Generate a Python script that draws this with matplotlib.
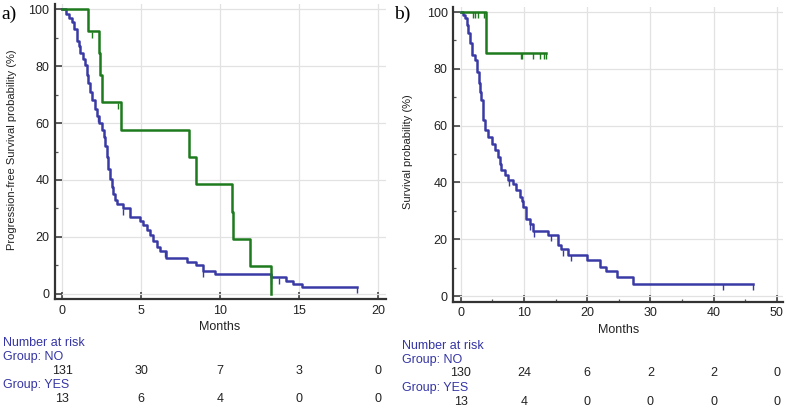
import numpy as np
import matplotlib
matplotlib.use("Agg")
import matplotlib.pyplot as plt
from matplotlib.transforms import blended_transform_factory
from matplotlib.ticker import MultipleLocator

plt.rcParams["font.family"] = ["Liberation Sans", "DejaVu Sans"]

BLUE = "#3a3aa6"
GREEN = "#1d7a1d"
TXT_BLUE = "#3535a5"

# ---- panel a: progression-free survival ----
a_no_t = [0.25, 0.45, 0.6, 0.75, 0.93, 1.05, 1.14, 1.3, 1.46, 1.55, 1.65, 1.78, 1.9,
          2.05, 2.2, 2.35, 2.5, 2.62, 2.72, 2.83, 2.93, 3.04, 3.13, 3.23, 3.35, 3.46,
          3.86, 4.3, 4.94, 5.15, 5.36, 5.55, 5.77, 6.0, 6.2, 6.6, 7.9, 8.5, 8.94, 9.68,
          13.2, 14.2, 14.6, 15.2]
a_no_s = [98.5, 97, 95.5, 93, 89, 87, 84.5, 82.5, 80.5, 77, 74, 71, 68,
          65, 62.5, 60, 57.5, 55, 52, 48, 44, 40.5, 37.5, 35, 33, 31.5,
          30, 27, 25.5, 24, 22.5, 20.5, 18.5, 16.5, 15, 12.7, 11.1, 10.0, 8.1, 7.0,
          5.8, 4.6, 3.4, 2.5]
a_no_end = 18.65
a_no_cens = [2.3, 3.88, 6.5, 8.94, 13.2, 13.7, 18.65]

a_yes_t = [1.65, 2.34, 2.4, 2.53, 3.73, 8.04, 8.48, 10.74, 10.84, 11.9, 13.2]
a_yes_s = [92.3, 84.6, 76.9, 67.3, 57.7, 48.1, 38.5, 28.8, 19.2, 9.6, 0]
a_yes_end = 13.2
a_yes_cens = [1.9, 3.55]

a_risk_t = [0, 5, 10, 15, 20]
a_risk_no = [131, 30, 7, 3, 0]
a_risk_yes = [13, 6, 4, 0, 0]

# ---- panel b: overall survival ----
b_no_t = [0.3, 0.6, 0.9, 1.15, 1.4, 1.68, 2.2, 2.57, 2.9, 3.1, 3.26, 3.5, 3.8, 4.3,
          4.85, 5.37, 5.9, 6.2, 6.4, 6.95, 7.5, 8.3, 8.8, 9.3, 9.6, 9.85, 10.3, 10.9,
          11.35, 13.8, 15.4, 15.9, 17.0, 19.9, 22.0, 23.0, 24.7, 27.3]
b_no_s = [99, 98, 95.5, 92.5, 89, 85, 83, 79, 75, 72, 69, 62, 58.5, 56,
          53.5, 51.5, 49, 46.5, 44.5, 42.5, 41, 39.5, 37.5, 35, 33.5, 31.5, 27, 25.5,
          23, 21.5, 18.0, 16.5, 14.5, 12.8, 10.4, 8.7, 6.7, 4.3]
b_no_end = 46.3
b_no_cens = [7.6, 10.9, 11.6, 14.2, 16.1, 17.4, 41.5, 46.3]

b_yes_t = [4.05]
b_yes_s = [85.7]
b_yes_end = 13.45
b_yes_cens = [1.85, 2.3, 2.7, 3.6, 9.5, 9.75, 11.35, 12.6, 13.1, 13.45]

b_risk_t = [0, 10, 20, 30, 40, 50]
b_risk_no = [130, 24, 6, 2, 2, 0]
b_risk_yes = [13, 4, 0, 0, 0, 0]


def km(ax, t, s, end, cens, color):
    xs = np.r_[0, t, end]
    ys = np.r_[100, s, s[-1]]
    ax.step(xs, ys, where="post", color=color, lw=1.8, zorder=3)
    # censor ticks: value of the curve at each censor time
    idx = np.searchsorted(xs, cens, side="right") - 1
    cy = ys[np.clip(idx, 0, len(ys) - 1)]
    ax.plot(cens, cy - 1.2, ls="none", marker="|", ms=5, mew=1.0,
            color=color, zorder=3)


def style(ax, xlim, xmajor, xminor):
    ax.set_xlim(*xlim)
    ax.set_ylim(-2.0, 101.9)
    ax.xaxis.set_major_locator(MultipleLocator(xmajor))
    if xminor:
        ax.xaxis.set_minor_locator(MultipleLocator(xminor))
    ax.yaxis.set_major_locator(MultipleLocator(20))
    ax.yaxis.set_minor_locator(MultipleLocator(10))
    ax.grid(True, which="major", color="#e2e2e2", lw=0.9)
    ax.set_axisbelow(True)
    for side in ("top", "right"):
        ax.spines[side].set_visible(False)
    for side in ("left", "bottom"):
        ax.spines[side].set_color("#333333")
        ax.spines[side].set_linewidth(1.6)
    ax.tick_params(which="major", direction="in", length=5, width=1.1,
                   colors="#333333", labelsize=9, labelcolor="#222222", pad=4)
    ax.tick_params(which="minor", direction="in", length=2.5, width=0.9,
                   colors="#555555")


def risk_table(fig, ax, x0, ys, times, no, yes):
    tr = blended_transform_factory(ax.transData, fig.transFigure)
    H = 408.0
    fig.text(x0, 1 - ys[0] / H, "Number at risk", color=TXT_BLUE, fontsize=9, va="center")
    fig.text(x0, 1 - ys[1] / H, "Group: NO", color=TXT_BLUE, fontsize=9, va="center")
    fig.text(x0, 1 - ys[3] / H, "Group: YES", color=TXT_BLUE, fontsize=9, va="center")
    for t, n in zip(times, no):
        ax.text(t, 1 - ys[2] / H, str(n), transform=tr, ha="center", va="center",
                fontsize=9, color="#222222")
    for t, n in zip(times, yes):
        ax.text(t, 1 - ys[4] / H, str(n), transform=tr, ha="center", va="center",
                fontsize=9, color="#222222")


fig = plt.figure(figsize=(7.87, 4.08), dpi=100)
ax1 = fig.add_axes([0.0699, 0.2664, 0.4206, 0.7238])
ax2 = fig.add_axes([0.576, 0.2605, 0.419, 0.7231])

km(ax1, a_no_t, a_no_s, a_no_end, a_no_cens, BLUE)
km(ax1, a_yes_t, a_yes_s, a_yes_end, a_yes_cens, GREEN)
style(ax1, (-0.45, 20.5), 5, None)

km(ax2, b_no_t, b_no_s, b_no_end, b_no_cens, BLUE)
km(ax2, b_yes_t, b_yes_s, b_yes_end, b_yes_cens, GREEN)
style(ax2, (-1.2, 51.0), 10, 5)

H = 408.0
fig.text(11.7 / 787, 1 - 150 / H, "Progression-free Survival probability (%)",
         rotation=90, ha="center", va="center", fontsize=8, color="#222222")
fig.text(408.3 / 787, 1 - 152 / H, "Survival probability (%)",
         rotation=90, ha="center", va="center", fontsize=8, color="#222222")

tr1 = blended_transform_factory(ax1.transData, fig.transFigure)
tr2 = blended_transform_factory(ax2.transData, fig.transFigure)
ax1.text(10, 1 - 326.7 / H, "Months", transform=tr1, ha="center", va="center",
         fontsize=9, color="#222222")
ax2.text(25, 1 - 330 / H, "Months", transform=tr2, ha="center", va="center",
         fontsize=9, color="#222222")

risk_table(fig, ax1, 3 / 787, [343.3, 357.3, 371, 385.3, 399],
           a_risk_t, a_risk_no, a_risk_yes)
risk_table(fig, ax2, 401.7 / 787, [345.7, 360, 373.3, 387.7, 401.7],
           b_risk_t, b_risk_no, b_risk_yes)

fig.text(9 / 787, 1 - 14 / H, "a)", family=["Liberation Serif", "DejaVu Serif"],
         fontsize=14, ha="center", va="center")
fig.text(402 / 787, 1 - 14 / H, "b)", family=["Liberation Serif", "DejaVu Serif"],
         fontsize=14, ha="center", va="center")

fig.savefig("out.png", dpi=100)
